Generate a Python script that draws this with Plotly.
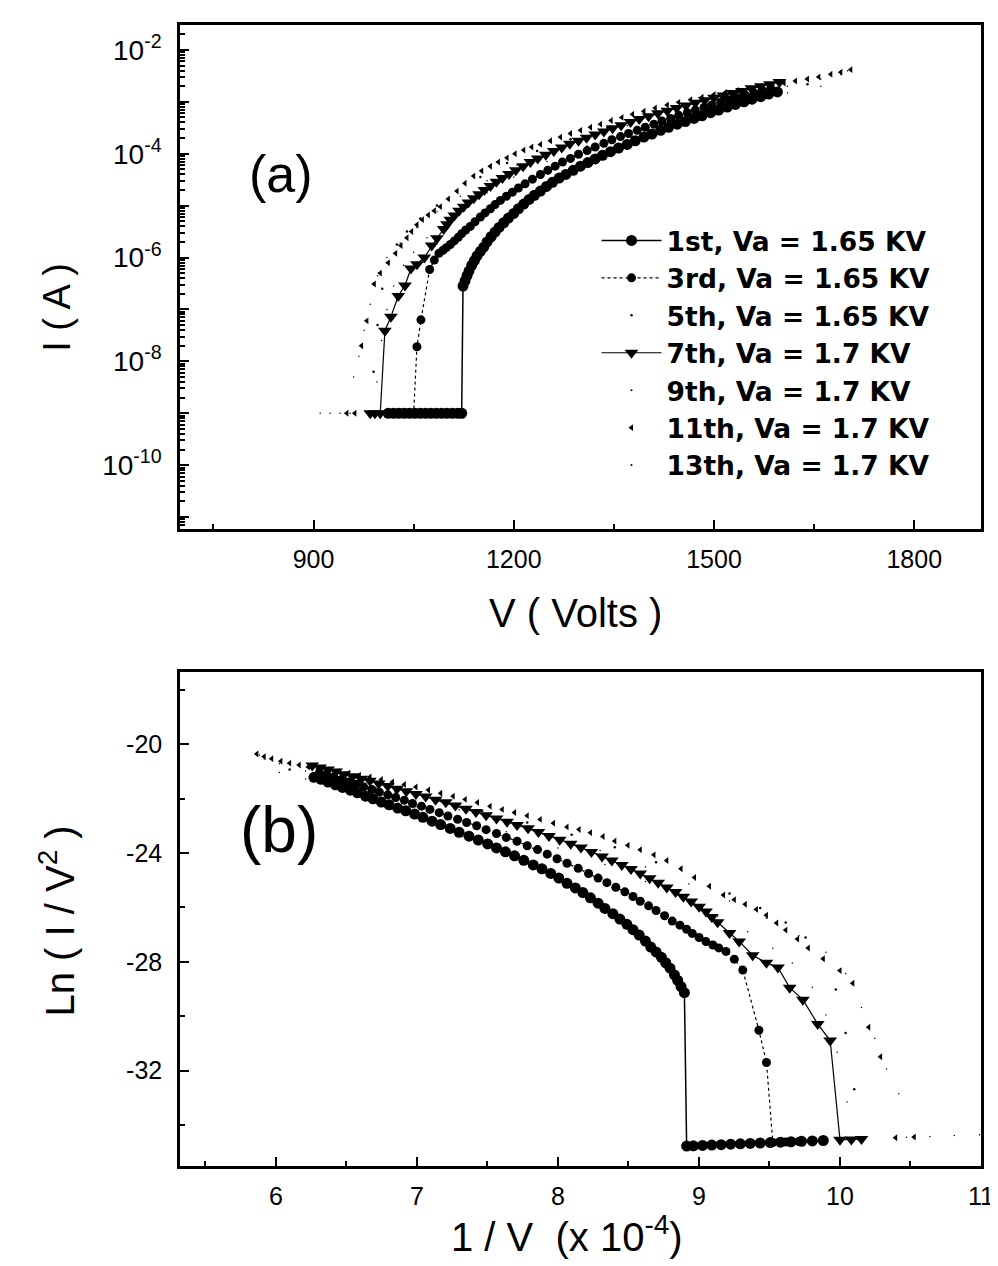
import numpy as np
import plotly.graph_objects as go
from plotly.subplots import make_subplots

FONT = 'Liberation Sans'
LEG_FONT = 'DejaVu Sans'

# applied voltage (V) and log10 of emission current (A) for each run
V_1ST = [1012, 1020, 1028, 1036, 1044, 1052, 1060, 1068, 1076, 1084, 1092, 1100, 1108, 1116, 1122,
         1124, 1127, 1130, 1133, 1137, 1141, 1145, 1150, 1155, 1160, 1166, 1172, 1178, 1185,
         1192, 1200, 1207, 1215, 1223, 1231, 1240, 1249, 1258, 1268, 1278, 1289, 1300, 1311,
         1322, 1333, 1345, 1357, 1370, 1382, 1395, 1407, 1420, 1432, 1445, 1457, 1470, 1482,
         1495, 1507, 1520, 1532, 1545, 1557, 1570, 1582, 1595]
LOGI_1ST = [-9, -9, -9, -9, -9, -9, -9, -9, -9, -9, -9, -9, -9, -9, -9,
            -6.55, -6.45, -6.35, -6.26, -6.15, -6.06, -5.97, -5.88, -5.80, -5.70, -5.60, -5.51,
            -5.42, -5.33, -5.24, -5.15, -5.06, -4.97, -4.88, -4.80, -4.72, -4.63, -4.55, -4.47,
            -4.40, -4.32, -4.24, -4.17, -4.10, -4.03, -3.96, -3.89, -3.82, -3.75, -3.68, -3.62,
            -3.55, -3.49, -3.43, -3.38, -3.32, -3.27, -3.21, -3.16, -3.10, -3.05, -3.00, -2.95,
            -2.90, -2.85, -2.81]

V_3RD = [1030, 1040, 1050, 1055, 1061, 1074, 1081, 1088, 1094, 1099, 1105, 1111, 1117, 1122,
         1128, 1135, 1142, 1150, 1157, 1165, 1172, 1180, 1189, 1198, 1207, 1217, 1228, 1240,
         1251, 1262, 1273, 1285, 1297, 1310, 1322, 1335, 1347, 1360, 1372, 1385, 1397, 1410,
         1422, 1435, 1447, 1460, 1472, 1485, 1497, 1510, 1522, 1535, 1547, 1560, 1572, 1585]
LOGI_3RD = [-9, -9, -9, -7.72, -7.20, -6.23, -6.05, -5.92, -5.86, -5.81, -5.75, -5.68, -5.61,
            -5.54, -5.47, -5.40, -5.31, -5.22, -5.14, -5.06, -4.98, -4.90, -4.82, -4.74, -4.66,
            -4.58, -4.49, -4.40, -4.32, -4.24, -4.16, -4.09, -4.01, -3.94, -3.87, -3.80, -3.73,
            -3.67, -3.61, -3.55, -3.49, -3.43, -3.37, -3.32, -3.26, -3.21, -3.16, -3.11, -3.06,
            -3.01, -2.96, -2.92, -2.87, -2.83, -2.78, -2.74]

V_5TH = [990, 996, 1003, 1012, 1025, 1040, 1060, 1085, 1115, 1150, 1190, 1235, 1285, 1340,
         1400, 1460, 1520, 1580, 1640]
LOGI_5TH = [-8.2, -7.3, -6.6, -6.1, -5.75, -5.5, -5.25, -5.0, -4.72, -4.45, -4.18, -3.95,
            -3.72, -3.50, -3.30, -3.12, -2.95, -2.80, -2.66]

V_7TH = [985, 992, 1000, 1007, 1016, 1027, 1037, 1046, 1055, 1066, 1077, 1085, 1095, 1100,
         1105, 1111, 1118, 1125, 1132, 1140, 1148, 1156, 1165, 1174, 1183, 1193, 1203, 1214,
         1225, 1236, 1248, 1260, 1272, 1284, 1297, 1309, 1322, 1335, 1348, 1361, 1375, 1388,
         1402, 1416, 1430, 1444, 1458, 1472, 1486, 1500, 1514, 1528, 1542, 1556, 1570, 1584,
         1598]
LOGI_7TH = [-9, -9, -9, -7.41, -7.14, -6.74, -6.54, -6.21, -6.13, -6.00, -5.77, -5.63, -5.45,
            -5.36, -5.27, -5.19, -5.10, -5.02, -4.94, -4.86, -4.78, -4.70, -4.62, -4.54, -4.47,
            -4.39, -4.32, -4.24, -4.16, -4.09, -4.02, -3.95, -3.88, -3.81, -3.75, -3.69, -3.63,
            -3.57, -3.51, -3.45, -3.39, -3.33, -3.28, -3.22, -3.17, -3.12, -3.07, -3.02, -2.97,
            -2.92, -2.88, -2.83, -2.79, -2.74, -2.70, -2.66, -2.62]

V_9TH = [988, 995, 1002, 1010, 1020, 1035, 1050, 1070, 1095, 1125, 1160, 1200, 1250, 1310,
         1370, 1430, 1490, 1550, 1610, 1660]
LOGI_9TH = [-9, -8.4, -7.6, -7.0, -6.55, -6.15, -5.9, -5.62, -5.35, -5.05, -4.75, -4.45, -4.15,
            -3.85, -3.60, -3.38, -3.18, -3.00, -2.83, -2.70]

V_11TH = [950, 962, 972, 980, 991, 1000, 1012, 1023, 1031, 1040, 1047, 1055, 1063, 1072, 1081,
          1090, 1102, 1115, 1127, 1140, 1152, 1165, 1177, 1190, 1202, 1215, 1227, 1240, 1255,
          1270, 1285, 1300, 1315, 1330, 1346, 1362, 1378, 1395, 1412, 1430, 1447, 1465, 1482,
          1500, 1517, 1535, 1552, 1570, 1587, 1605, 1622, 1640, 1657, 1675, 1690, 1705]
LOGI_11TH = [-9, -9, -7.70, -7.22, -6.51, -6.30, -6.10, -5.92, -5.77, -5.62, -5.50, -5.37,
             -5.27, -5.18, -5.10, -5.02, -4.87, -4.72, -4.57, -4.43, -4.33, -4.24, -4.16, -4.08,
             -4.00, -3.93, -3.87, -3.82, -3.75, -3.68, -3.61, -3.55, -3.49, -3.43, -3.36, -3.30,
             -3.24, -3.18, -3.12, -3.06, -3.01, -2.96, -2.91, -2.86, -2.82, -2.78, -2.74, -2.71,
             -2.67, -2.64, -2.60, -2.56, -2.52, -2.47, -2.43, -2.38]

V_13TH = [910, 925, 940, 955, 960, 968, 976, 985, 996, 1010, 1030, 1055, 1085, 1120, 1160,
          1205, 1255, 1310, 1370, 1430, 1490, 1550, 1610, 1660, 1690, 1700]
LOGI_13TH = [-9, -9, -9, -9, -8.3, -7.9, -7.4, -6.9, -6.35, -6.0, -5.72, -5.42, -5.12, -4.82,
             -4.52, -4.22, -3.95, -3.70, -3.46, -3.24, -3.04, -2.86, -2.70, -2.56, -2.47, -2.40]

RUNS = [
    # name, V, logI, symbol, size, line width, dash
    ('1st, Va = 1.65 KV', V_1ST, LOGI_1ST, 'circle', 11, 1.5, 'solid'),
    ('3rd, Va = 1.65 KV', V_3RD, LOGI_3RD, 'circle', 9, 1.2, 'dot'),
    ('5th, Va = 1.65 KV', V_5TH, LOGI_5TH, 'circle', 2.5, 0, 'solid'),
    ('7th, Va = 1.7 KV', V_7TH, LOGI_7TH, 'triangle-down', 12, 1.2, 'solid'),
    ('9th, Va = 1.7 KV', V_9TH, LOGI_9TH, 'circle', 1.5, 0, 'solid'),
    ('11th, Va = 1.7 KV', V_11TH, LOGI_11TH, 'triangle-left', 6, 0, 'solid'),
    ('13th, Va = 1.7 KV', V_13TH, LOGI_13TH, 'circle', 1.5, 0, 'solid'),
]

fig = make_subplots(rows=2, cols=1)

for rank, (name, v, logi, sym, size, lw, dash) in enumerate(RUNS):
    v = np.array(v, dtype=float)
    cur = 10 ** np.array(logi)
    mode = 'lines+markers' if lw else 'markers'
    style = dict(mode=mode, marker=dict(symbol=sym, size=size, color='black', line=dict(width=0)),
                 line=dict(color='black', width=lw or 1, dash=dash))
    fig.add_trace(go.Scatter(x=v, y=cur, name=name, legendgroup=name, legendrank=rank,
                             **style), row=1, col=1)
    # Fowler-Nordheim plot of the same run
    fig.add_trace(go.Scatter(x=1e4 / v, y=np.log(cur / v ** 2), name=name, legendgroup=name,
                             showlegend=False, **style), row=2, col=1)

axis_common = dict(showline=True, linecolor='black', linewidth=2.5, mirror=True, ticks='inside',
                   tickcolor='black', tickwidth=2, ticklen=9, showgrid=False, zeroline=False,
                   tickfont=dict(family=FONT, size=25, color='black'))
minor_common = dict(ticks='inside', ticklen=5, tickcolor='black', tickwidth=1.5, showgrid=False)

decades = [10.0 ** k for k in range(-11, -1)]
decade_text = ['' if k % 2 else f'10<sup>{k}</sup>' for k in range(-11, -1)]
minor_logs = [m * 10.0 ** k for k in range(-12, -1) for m in range(2, 10)]
fn_ticks = [-20, -24, -28, -32]

fig.update_layout(
    width=998, height=1266,
    margin=dict(l=172, r=13, t=17, b=108),
    paper_bgcolor='white', plot_bgcolor='white',
    xaxis=dict(range=[700, 1900], tickvals=[900, 1200, 1500, 1800],
               minor=dict(dtick=150, **minor_common), ticklabelstandoff=6, **axis_common),
    yaxis=dict(type='log', range=[-11.23, -1.52], domain=[0.5583, 1.0], tickvals=decades,
               ticktext=decade_text, minor=dict(tickvals=minor_logs, **minor_common),
               ticklabelstandoff=10, **axis_common),
    xaxis2=dict(range=[5.32, 11.0], dtick=1, minor=dict(dtick=0.5, **minor_common),
                ticklabelstandoff=6, **axis_common),
    yaxis2=dict(range=[-35.5, -17.35], domain=[0.0, 0.433], tickvals=fn_ticks,
                ticktext=[str(t) for t in fn_ticks],
                minor=dict(dtick=2, **minor_common), ticklabelstandoff=10, **axis_common),
    legend=dict(x=0.52, y=0.832, xanchor='left', yanchor='top', bgcolor='rgba(0,0,0,0)',
                font=dict(family=LEG_FONT, size=26.5, color='black', weight='bold'),
                tracegroupgap=0, itemwidth=60),
    showlegend=True,
)
fig.update_yaxes(tickfont=dict(size=28), row=1, col=1)

texts = [
    # text, x, y (paper), size, angle
    ('(a)', 0.1255, 0.8694, 52, 0),
    ('(b)', 0.123, 0.2945, 64, 0),
    ('I ( A )', -0.1538, 0.7529, 38, -90),
    ('V ( Volts )', 0.4932, 0.4847, 40, 0),
    ('Ln ( I / V<sup>2</sup> )', -0.1538, 0.215, 40, -90),
    ('1 / V  (x 10<sup>-4</sup>)', 0.4834, -0.0596, 40, 0),
]
for txt, x, y, size, ang in texts:
    fig.add_annotation(text=txt, x=x, y=y, xref='paper', yref='paper', showarrow=False,
                       textangle=ang, xanchor='center', yanchor='middle',
                       font=dict(family=FONT, size=size, color='black'))

fig.write_html('out.html')
